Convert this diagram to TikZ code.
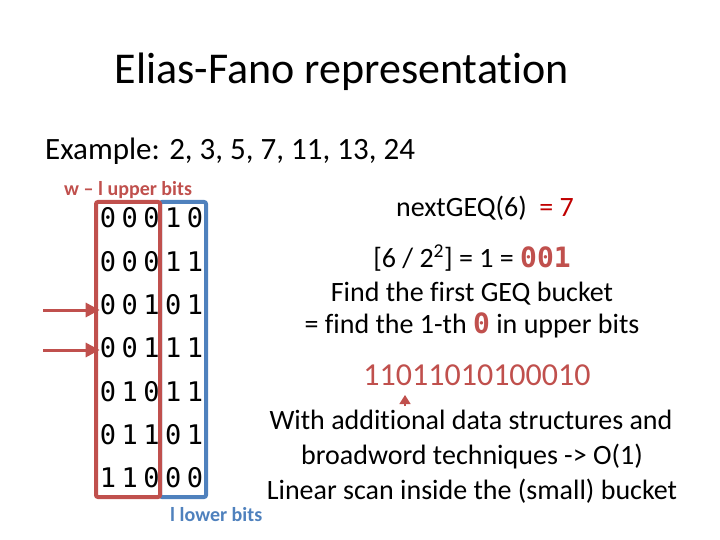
\documentclass[tikz,border=0pt]{standalone}
\usepackage{fontspec}
\setmainfont{Carlito}[Ligatures=NoCommon]
\newfontfamily\bitfont{DejaVu Sans Mono}
\usetikzlibrary{arrows.meta}
\definecolor{upper}{HTML}{C0504D}
\definecolor{lower}{HTML}{4F81BD}
\definecolor{answer}{HTML}{C00000}

\begin{document}
\begin{tikzpicture}[x=1pt,y=-1pt,
  txt/.style={anchor=base,inner sep=0pt,font=\fontsize{28}{32}\selectfont},
  bit/.style={anchor=base,inner sep=0pt,font=\bitfont\fontsize{27}{30}\selectfont},
  tag/.style={anchor=base,inner sep=0pt,font=\bfseries\fontsize{20}{24}\selectfont},
  ptr/.style={-{Triangle[length=14pt,width=14pt]},color=upper,line width=3pt}]
\useasboundingbox (0,0) rectangle (720,540);
% headings
\node[anchor=base,inner sep=0pt,font=\fontsize{44}{48}\selectfont] (title) at (342,84) {Elias-Fano representation};
\node[anchor=base west,inner sep=0pt,font=\fontsize{31}{34}\selectfont] (example) at (45,160) {Example: 2, 3, 5, 7, 11, 13, 24};
% the seven numbers in binary
\foreach \row [count=\i] in {{0,0,0,1,0},{0,0,0,1,1},{0,0,1,0,1},{0,0,1,1,1},{0,1,0,1,1},{0,1,1,0,1},{1,1,0,0,0}}
  \foreach \d [count=\j] in \row
    \node[bit] (b\i\j) at ({108+21.75*(\j-1)},{228+43.3*(\i-1)}) {\d};
\draw[lower,line width=4pt,rounded corners=2pt] (160,202) rectangle (206,497);
\draw[upper,line width=4pt,rounded corners=2pt] (96,202) rectangle (160,497);
\node[tag,color=upper,anchor=base west] (up) at (64,196) {w -- l upper bits};
\node[tag,color=lower,anchor=base west] (low) at (170,521) {l lower bits};
% pointers to the bucket
\coordinate (p3) at (43,310);
\coordinate (p4) at (43,350);
\draw[ptr] (p3) -- (p3 -| b31.west);
\draw[ptr] (p4) -- (p4 -| b41.west);
% nextGEQ
\node[txt] (q) at (485,216) {nextGEQ(6)\ \ \textcolor{answer}{= 7}};
\node[txt] (s1) at (472,267) {[6 / 2\textsuperscript{2}] = 1 = \textcolor{upper}{\bitfont\bfseries 001}};
\node[txt] (s2) at (472,301) {Find the first GEQ bucket};
\node[txt] (s3) at (472,333) {= find the 1-th \textcolor{upper}{\bitfont\bfseries 0} in upper bits};
\node[txt,color=upper,font=\fontsize{32}{36}\selectfont] (ub) at (477,385) {11011010100010};
\coordinate (m0) at (405,406);
\coordinate (m1) at (405,395);
\draw[-{Triangle[length=9pt,width=11pt]},upper,line width=1.5pt] (m0) -- (m1);
\node[txt] (s4) at (471,429) {With additional data structures and};
\node[txt] (s5) at (472,464) {broadword techniques -> O(1)};
\node[txt] (s6) at (472,499) {Linear scan inside the (small) bucket};
\end{tikzpicture}
\end{document}
